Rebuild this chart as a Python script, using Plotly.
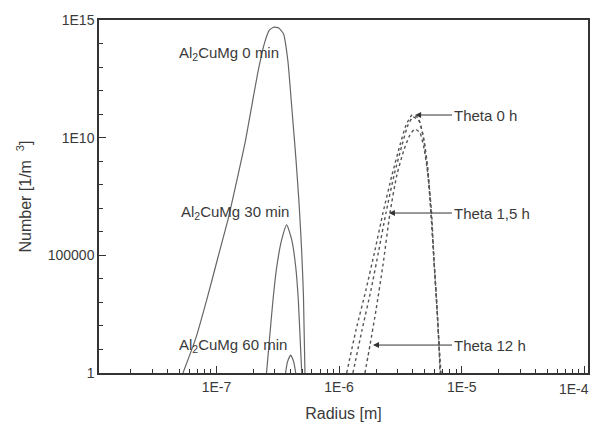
import plotly.graph_objects as go
import numpy as np

# ---- data (radius [m], number [1/m^3]) ----
r_al_0 = [5.33e-8, 6.80e-8, 8.37e-8, 1.02e-7, 1.24e-7, 1.47e-7, 1.72e-7, 1.97e-7, 2.20e-7,
          2.47e-7, 2.70e-7, 2.94e-7, 3.22e-7, 3.52e-7, 3.82e-7, 4.13e-7, 4.45e-7, 4.72e-7, 4.95e-7, 5.12e-7, 5.27e-7]
n_al_0 = [1, 31, 1.4e3, 7.0e4, 3.2e6, 1.6e8, 7.0e9, 3.5e11, 8.0e12,
          1.1e14, 3.7e14, 5.0e14, 4.6e14, 2.6e14, 1.9e13, 1.5e11, 1.2e9, 1.5e7, 1.6e5, 2.0e3, 1]

r_al_30 = [2.56e-7, 2.68e-7, 2.89e-7, 3.10e-7, 3.40e-7, 3.74e-7, 4.11e-7, 4.43e-7, 4.65e-7, 4.84e-7, 4.96e-7]
n_al_30 = [1, 15.5, 1.26e3, 3.2e4, 4.5e5, 1.95e6, 4.5e5, 3.2e4, 1.26e3, 15.5, 1]

r_al_60 = [3.66e-7, 3.79e-7, 4.03e-7, 4.27e-7, 4.43e-7]
n_al_60 = [1, 2.9, 5.8, 2.9, 1]

r_th_0 = [1.153e-6, 1.374e-6, 1.655e-6, 1.963e-6, 2.28e-6, 2.70e-6, 3.14e-6, 3.52e-6, 3.94e-6,
          4.41e-6, 4.83e-6, 5.21e-6, 5.62e-6, 5.94e-6, 6.30e-6, 6.53e-6, 6.78e-6]
n_th_0 = [1, 67, 3.35e3, 1.68e5, 6.28e6, 2.59e8, 4.87e9, 3.45e10, 9.18e10,
          6.84e10, 1.30e10, 6.88e8, 6.28e6, 6.3e4, 473, 15.4, 1]

r_th_15 = [1.297e-6, 1.538e-6, 1.820e-6, 2.11e-6, 2.41e-6, 2.81e-6, 3.26e-6, 3.65e-6, 4.01e-6,
           4.49e-6, 4.92e-6, 5.31e-6, 5.62e-6, 5.94e-6, 6.30e-6, 6.53e-6, 6.71e-6]
n_th_15 = [1, 67, 3.35e3, 1.68e5, 6.28e6, 2.59e8, 4.87e9, 3.45e10, 7.55e10,
           5.1e10, 7.94e9, 4.22e8, 6.28e6, 6.3e4, 473, 15.4, 1]

r_th_12 = [1.625e-6, 1.787e-6, 2.00e-6, 2.28e-6, 2.60e-6, 2.96e-6, 3.38e-6, 3.78e-6, 4.16e-6,
           4.57e-6, 4.92e-6, 5.31e-6, 5.68e-6, 5.94e-6, 6.30e-6, 6.53e-6, 6.65e-6]
n_th_12 = [1, 15.4, 473, 3.87e4, 6.28e6, 2.59e8, 2.99e9, 1.30e10, 2.33e10,
           1.58e10, 3.63e9, 2.59e8, 6.28e6, 6.3e4, 473, 15.4, 1]

x_tickvals = [1e-7, 1e-6, 1e-5, 1e-4]
x_ticktext = ["1E-7", "1E-6", "1E-5", "1E-4"]
y_tickvals = [1, 1e5, 1e10, 1e15]
y_ticktext = ["1", "100000", "1E10", "1E15"]

FONT = "Liberation Sans, Arial, sans-serif"
TXT = "#3a3a3a"

fig = go.Figure()
solid = dict(color="#666666", width=1.2, shape="spline", smoothing=0.5)
dotted = dict(color="#555555", width=1.4, dash="dot", shape="spline", smoothing=0.6)
for r, n in [(r_al_0, n_al_0), (r_al_30, n_al_30), (r_al_60, n_al_60)]:
    fig.add_trace(go.Scatter(x=r, y=n, mode="lines", line=solid, showlegend=False))
for r, n in [(r_th_0, n_th_0), (r_th_15, n_th_15), (r_th_12, n_th_12)]:
    fig.add_trace(go.Scatter(x=r, y=n, mode="lines", line=dotted, showlegend=False))

# minor ticks
x_minor = [m * 10.0 ** e for e in range(-8, -4) for m in range(2, 10)]
y_minor = [10.0 ** e for e in range(0, 16)]

annotations = []
for txt, xp, yp in [("Al<sub>2</sub>CuMg 0 min", 0.160, 0.906),
                    ("Al<sub>2</sub>CuMg 30 min", 0.164, 0.456),
                    ("Al<sub>2</sub>CuMg 60 min", 0.160, 0.079)]:
    annotations.append(dict(text=txt, x=xp, y=yp, xref="paper", yref="paper",
                            xanchor="left", yanchor="middle", showarrow=False,
                            font=dict(family=FONT, size=15, color=TXT)))

# arrow labels for the Theta curves (tip at a point on the curve)
for txt, r, n, idx, ax in [("Theta 0 h", r_th_0, n_th_0, 8, 40),
                           ("Theta 1,5 h", r_th_15, n_th_15, 4, 66),
                           ("Theta 12 h", r_th_12, n_th_12, 1, 82)]:
    annotations.append(dict(text=txt, x=np.log10(r[idx]), y=np.log10(n[idx]),
                            xref="x", yref="y", ax=ax, ay=0, xanchor="left",
                            showarrow=True, arrowhead=2, arrowsize=1.2, arrowwidth=1,
                            arrowcolor="#333333", standoff=3,
                            font=dict(family=FONT, size=15, color=TXT)))

# the last x tick label sits at the very edge of the page: draw it right-aligned so it stays visible
annotations.append(dict(text=x_ticktext[-1], x=1.006, y=-0.045, xref="paper", yref="paper",
                        xanchor="right", yanchor="middle", showarrow=False,
                        font=dict(family=FONT, size=14, color=TXT)))
x_ticktext_axis = x_ticktext[:-1] + [""]

# the page body adds an 8 px margin, so the figure is sized/offset to compensate
fig.update_layout(
    width=591, height=421,
    margin=dict(l=91, r=11, t=12, b=56),
    paper_bgcolor="white", plot_bgcolor="white",
    font=dict(family=FONT, size=14, color=TXT),
    annotations=annotations,
    xaxis=dict(type="log", range=[-7.958, -3.97], showgrid=False, zeroline=False,
               automargin=False,
               showline=True, linecolor="#333333", linewidth=1.5, mirror=True,
               ticks="inside", ticklen=7, tickwidth=1, tickcolor="#333333",
               tickvals=x_tickvals, ticktext=x_ticktext_axis,
               tickfont=dict(family=FONT, size=14, color=TXT),
               minor=dict(tickvals=x_minor, ticks="inside", ticklen=4, tickcolor="#333333"),
               title=dict(text="Radius [m]", font=dict(family=FONT, size=16, color=TXT), standoff=14)),
    yaxis=dict(type="log", range=[0, 15], showgrid=False, zeroline=False,
               automargin=False,
               showline=True, linecolor="#333333", linewidth=1.5, mirror=True,
               ticks="inside", ticklen=7, tickwidth=1, tickcolor="#333333",
               tickvals=y_tickvals, ticktext=y_ticktext,
               tickfont=dict(family=FONT, size=14, color=TXT),
               minor=dict(tickvals=y_minor, ticks="inside", ticklen=4, tickcolor="#333333"),
               title=dict(text="Number [1/m  <sup>3</sup>]", font=dict(family=FONT, size=16, color=TXT), standoff=12)),
)

fig.write_html("out.html")
